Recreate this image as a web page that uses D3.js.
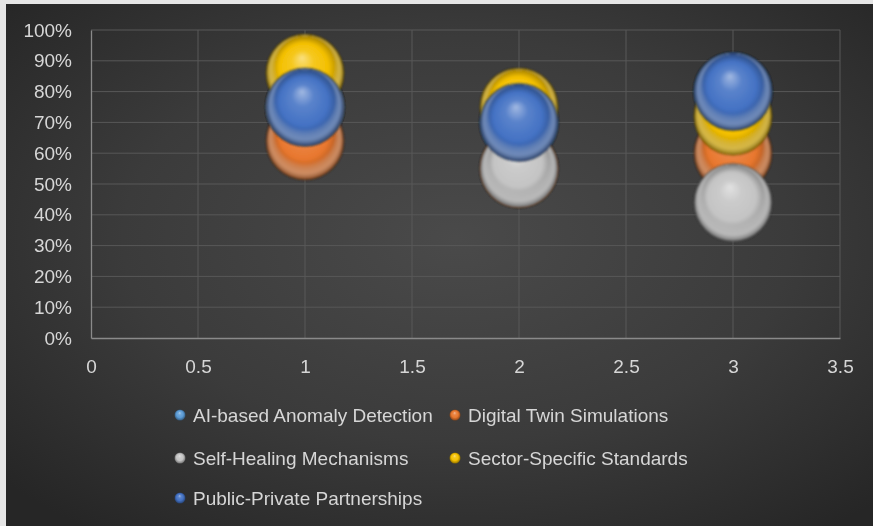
<!DOCTYPE html>
<html>
<head>
<meta charset="utf-8">
<script src="https://cdn.jsdelivr.net/npm/d3@7"></script>
<style>
  html, body { margin: 0; padding: 0; background: #e6e6e6; }
  svg { display: block; }
  text { font-family: "Liberation Sans", Arial, sans-serif; }
</style>
</head>
<body>
<svg id="chart" width="873" height="526"></svg>
<script>
// ---- data ----
const seriesNames = ["AI-based Anomaly Detection", "Digital Twin Simulations", "Self-Healing Mechanisms", "Sector-Specific Standards", "Public-Private Partnerships"];
const xValues = [1, 2, 3];
const aiBased      = [0.75, 0.70, 0.80];
const digitalTwin  = [0.64, 0.55, 0.60];
const selfHealing  = [0.75, 0.55, 0.44];
const sectorStd    = [0.86, 0.75, 0.72];
const publicPriv   = [0.75, 0.70, 0.80];
const bubbleSizes  = [1, 1, 1];
const xTicks = [0, 0.5, 1, 1.5, 2, 2.5, 3, 3.5];
const yTicks = [0, 0.1, 0.2, 0.3, 0.4, 0.5, 0.6, 0.7, 0.8, 0.9, 1.0];
const seriesColors = ["#5b9bd5", "#e8772e", "#c4c4c4", "#f4c000", "#4472c4"];

const allSeries = [aiBased, digitalTwin, selfHealing, sectorStd, publicPriv];

const W = 873, H = 526;
const plot = { left: 91, right: 840, top: 30, bottom: 338 };

const svg = d3.select("#chart");
const defs = svg.append("defs");

// background
const bg = defs.append("radialGradient").attr("id", "bg")
  .attr("cx", "52%").attr("cy", "45%").attr("r", "70%");
bg.append("stop").attr("offset", "0%").attr("stop-color", "#4a4a4a");
bg.append("stop").attr("offset", "55%").attr("stop-color", "#3b3b3b");
bg.append("stop").attr("offset", "100%").attr("stop-color", "#262626");
svg.append("rect").attr("x", 6).attr("y", 4).attr("width", W - 6).attr("height", H - 4).attr("fill", "url(#bg)");

const blurF = defs.append("filter").attr("id", "soft");
blurF.append("feGaussianBlur").attr("stdDeviation", 0.45);
const bubBlur = defs.append("filter").attr("id", "bubsoft")
  .attr("x", "-20%").attr("y", "-20%").attr("width", "140%").attr("height", "140%");
bubBlur.append("feGaussianBlur").attr("stdDeviation", 0.8);

// bubble gradients
seriesColors.forEach((c, i) => {
  const base = d3.color(c);
  const g = defs.append("radialGradient").attr("id", "bub" + i)
    .attr("cx", "50%").attr("cy", "50%").attr("r", "50%")
    .attr("fx", "46%").attr("fy", "30%");
  g.append("stop").attr("offset", "0%").attr("stop-color", d3.interpolateRgb(c, "#ffffff")(0.5));
  g.append("stop").attr("offset", "28%").attr("stop-color", d3.interpolateRgb(c, "#ffffff")(0.12));
  g.append("stop").attr("offset", "62%").attr("stop-color", c);
  g.append("stop").attr("offset", "88%").attr("stop-color", base.darker(0.9).formatHex());
  g.append("stop").attr("offset", "100%").attr("stop-color", base.darker(1.7).formatHex());
  // bottom rim reflection
  const r = defs.append("radialGradient").attr("id", "rim" + i)
    .attr("cx", "50%").attr("cy", "50%").attr("r", "50%")
    .attr("fx", "50%").attr("fy", "5%");
  r.append("stop").attr("offset", "0%").attr("stop-color", "#fff").attr("stop-opacity", 0);
  r.append("stop").attr("offset", "78%").attr("stop-color", "#fff").attr("stop-opacity", 0);
  r.append("stop").attr("offset", "92%").attr("stop-color", d3.interpolateRgb(c, "#ffffff")(0.55)).attr("stop-opacity", 0.5);
  r.append("stop").attr("offset", "100%").attr("stop-color", "#fff").attr("stop-opacity", 0.05);
});

const x = d3.scaleLinear().domain([0, 3.5]).range([plot.left, plot.right]);
const y = d3.scaleLinear().domain([0, 1]).range([plot.bottom, plot.top]);
const rScale = d3.scaleSqrt().domain([0, 1]).range([0, 39]);

// gridlines
const grid = svg.append("g");
grid.selectAll("line.h").data(yTicks.slice(1)).join("line")
  .attr("x1", plot.left).attr("x2", plot.right)
  .attr("y1", d => y(d)).attr("y2", d => y(d))
  .attr("stroke", "#585858").attr("stroke-width", 1);
grid.selectAll("line.v").data(xTicks.slice(1)).join("line")
  .attr("y1", plot.top).attr("y2", plot.bottom)
  .attr("x1", d => x(d)).attr("x2", d => x(d))
  .attr("stroke", "#585858").attr("stroke-width", 1);

// axes
const yAxis = d3.axisLeft(y).tickValues(yTicks).tickFormat(d3.format(".0%")).tickSize(0).tickPadding(19);
const gy = svg.append("g").attr("transform", `translate(${plot.left},0)`).call(yAxis);
gy.select(".domain").attr("stroke", "#8a8a8a").attr("stroke-width", 1.3);
gy.selectAll("text").attr("fill", "#d6d6d6").attr("font-size", 19).attr("filter", "url(#soft)");

const xAxis = d3.axisBottom(x).tickValues(xTicks).tickFormat(d => String(d)).tickSize(0).tickPadding(22);
const gx = svg.append("g").attr("transform", `translate(0,${plot.bottom})`).call(xAxis);
gx.select(".domain").attr("stroke", "#8a8a8a").attr("stroke-width", 1.3);
gx.selectAll("text").attr("fill", "#d6d6d6").attr("font-size", 19).attr("filter", "url(#soft)");

// bubbles
const bubbles = svg.append("g");
allSeries.forEach((vals, si) => {
  const pts = vals.map((v, j) => ({ x: xValues[j], y: v, s: bubbleSizes[j] }));
  const g = bubbles.append("g").attr("filter", "url(#bubsoft)");
  g.selectAll("circle.b").data(pts).join("circle")
    .attr("cx", d => x(d.x)).attr("cy", d => y(d.y)).attr("r", d => rScale(d.s))
    .attr("fill", `url(#bub${si})`)
    .attr("stroke", "rgba(0,0,0,0.3)").attr("stroke-width", 1.2);
  g.selectAll("circle.r").data(pts).join("circle")
    .attr("cx", d => x(d.x)).attr("cy", d => y(d.y)).attr("r", d => rScale(d.s) - 1)
    .attr("fill", `url(#rim${si})`);
});

// legend
const legendPos = [
  { mx: 180, tx: 193, y: 415 },
  { mx: 455, tx: 468, y: 415 },
  { mx: 180, tx: 193, y: 458 },
  { mx: 455, tx: 468, y: 458 },
  { mx: 180, tx: 193, y: 498 }
];
const legend = svg.append("g");
seriesNames.forEach((name, i) => {
  const p = legendPos[i];
  legend.append("circle").attr("cx", p.mx).attr("cy", p.y).attr("r", 5.5)
    .attr("fill", `url(#bub${i})`);
  legend.append("text").attr("x", p.tx).attr("y", p.y).attr("dy", "0.35em")
    .attr("fill", "#d6d6d6").attr("font-size", 19).attr("filter", "url(#soft)")
    .text(name);
});
</script>
</body>
</html>
